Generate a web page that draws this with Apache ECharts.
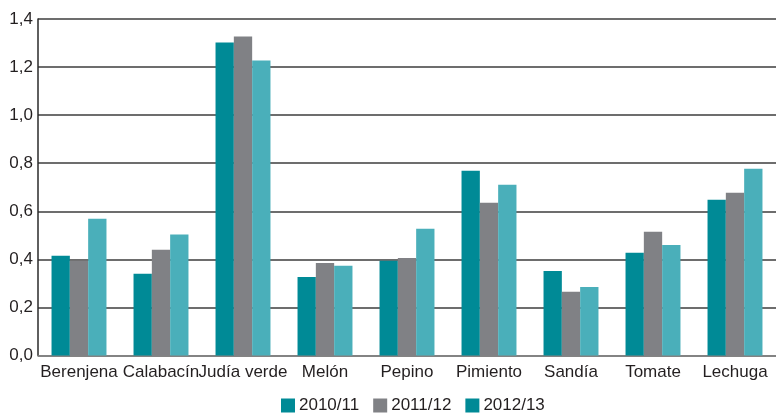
<!DOCTYPE html>
<html>
<head>
<meta charset="utf-8">
<script src="https://cdn.jsdelivr.net/npm/echarts@6/dist/echarts.min.js"></script>
<style>
  html, body { margin: 0; padding: 0; background: #fff; }
  #chart { width: 776px; height: 413px; }
</style>
</head>
<body>
<div id="chart"></div>
<script>
// Crops and campaign values
const categories = ['Berenjena', 'Calabacín', 'Judía verde', 'Melón', 'Pepino', 'Pimiento', 'Sandía', 'Tomate', 'Lechuga'];
const seriesNames = ['2010/11', '2011/12', '2012/13'];
const values2010 = [0.415, 0.34, 1.302, 0.327, 0.394, 0.769, 0.352, 0.427, 0.648];
const values2011 = [0.394, 0.44, 1.327, 0.385, 0.406, 0.635, 0.265, 0.515, 0.677];
const values2012 = [0.569, 0.503, 1.227, 0.373, 0.527, 0.71, 0.285, 0.46, 0.777];
const yTicks = [0, 0.2, 0.4, 0.6, 0.8, 1.0, 1.2, 1.4];

const colors = ['#008A96', '#808185', '#4AAFBA'];
const legendColors = ['#008A96', '#808185', '#008A96'];
const font = '"Liberation Sans", Arial, Helvetica, sans-serif';

const chart = echarts.init(document.getElementById('chart'), null, { renderer: 'canvas' });

const allValues = [values2010, values2011, values2012];

chart.setOption({
  animation: false,
  textStyle: { fontFamily: font },
  grid: { left: 38, right: 0, top: 19, bottom: 57.5, containLabel: false },
  legend: {
    top: 397,
    left: 276,
    padding: [0, 5, 0, 5],
    itemWidth: 14,
    itemHeight: 14,
    itemGap: 14,
    icon: 'rect',
    textStyle: { fontSize: 17, lineHeight: 17, color: '#231f20', fontFamily: font, padding: [0, 0, 0, -1] },
    data: seriesNames.map((n, i) => ({ name: n, itemStyle: { color: legendColors[i] } }))
  },
  xAxis: {
    type: 'category',
    data: categories,
    axisTick: { show: false },
    axisLine: { show: true, lineStyle: { color: '#8a8a8a', width: 1.5 } },
    axisLabel: { interval: 0, fontSize: 17, color: '#231f20', margin: 8, fontFamily: font }
  },
  yAxis: {
    type: 'value',
    min: yTicks[0],
    max: yTicks[yTicks.length - 1],
    interval: 0.2,
    axisLine: { show: true, lineStyle: { color: '#2a2a2a', width: 1.5 } },
    axisTick: { show: false },
    splitLine: { show: true, lineStyle: { color: '#3c3c3c', width: 1.5 } },
    axisLabel: {
      fontSize: 17,
      color: '#231f20',
      margin: 5,
      fontFamily: font,
      formatter: v => v.toFixed(1).replace('.', ',')
    }
  },
  series: seriesNames.map((name, i) => ({
    name: name,
    type: 'bar',
    data: allValues[i],
    barGap: '0%',
    barCategoryGap: '33%',
    itemStyle: { color: colors[i] }
  }))
});
</script>
</body>
</html>
